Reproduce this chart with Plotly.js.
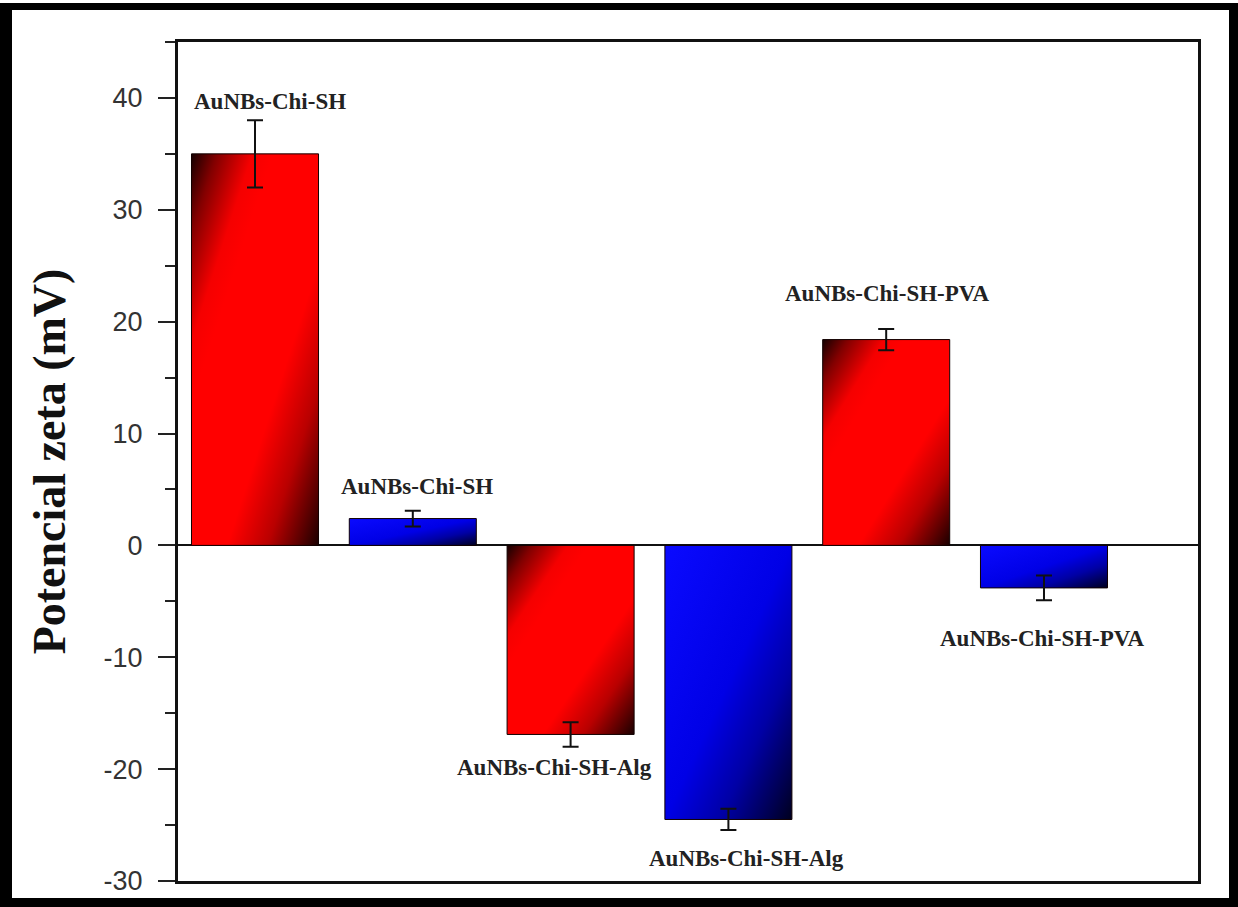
<!DOCTYPE html>
<html>
<head>
<meta charset="utf-8">
<script src="https://cdn.plot.ly/plotly-3.0.1.min.js"></script>
<style>
  html, body { margin: 0; padding: 0; background: #fff; }
  #frame {
    position: absolute; left: 0; top: 3px;
    width: 1238px; height: 904px; box-sizing: border-box;
    border-style: solid; border-color: #000;
    border-width: 7px 9px 9px 12px; background: #fff;
  }
  #chart { width: 1217px; height: 888px; }
</style>
</head>
<body>
<div id="frame"><div id="chart"></div></div>
<script>
// ---- data ----
const sampleNames = ["AuNBs-Chi-SH", "AuNBs-Chi-SH", "AuNBs-Chi-SH-Alg", "AuNBs-Chi-SH-Alg", "AuNBs-Chi-SH-PVA", "AuNBs-Chi-SH-PVA"];
const positions = [1, 2, 3, 4, 5, 6];
const zetaValues = [35.0, 2.4, -16.9, -24.5, 18.4, -3.8];
const zetaErrors = [3.0, 0.7, 1.1, 0.95, 0.95, 1.1];
const barGroups = ["red", "blue", "red", "blue", "red", "blue"];
const yTickVals = [-30, -20, -10, 0, 10, 20, 30, 40];
const yTickText = ["-30", "-20", "-10", "0", "10", "20", "30", "40"];

// ---- label placement (pixel offsets, style only) ----
const labelDX = [15, 4, -16, 18, 1, -2];
const labelDY = [19, 24, -21, -28, 35, -38];

const baseColors = { red: "rgb(255,0,0)", blue: "rgb(0,0,230)" };

const trace = {
  type: "bar",
  x: positions,
  y: zetaValues,
  width: 0.805,
  marker: {
    color: barGroups.map(g => baseColors[g]),
    line: { color: "#100", width: 1 }
  },
  error_y: { type: "data", array: zetaErrors, visible: true, color: "#111", thickness: 2, width: 8 },
  hoverinfo: "skip"
};

const annotations = sampleNames.map((name, i) => ({
  x: positions[i],
  y: zetaValues[i] + Math.sign(zetaValues[i]) * zetaErrors[i],
  xref: "x", yref: "y",
  text: "<b>" + name + "</b>",
  showarrow: false,
  xanchor: "center", yanchor: "middle",
  xshift: labelDX[i], yshift: labelDY[i],
  font: { family: "Liberation Serif, 'Times New Roman', serif", size: 23, color: "#222" }
}));

const layout = {
  width: 1217, height: 888,
  margin: { l: 166, r: 31, t: 32, b: 17 },
  paper_bgcolor: "#fff", plot_bgcolor: "#fff",
  showlegend: false,
  xaxis: {
    range: [0.512, 6.976],
    showticklabels: false, ticks: "",
    showgrid: false, zeroline: false,
    showline: true, mirror: true, linecolor: "#111", linewidth: 3
  },
  yaxis: {
    range: [-30, 45],
    tickvals: yTickVals, ticktext: yTickText,
    ticks: "outside", ticklen: 17, tickwidth: 2, tickcolor: "#222",
    minor: { dtick: 5, tick0: 0, ticks: "outside", ticklen: 10, tickwidth: 2, tickcolor: "#222" },
    ticklabelstandoff: 10,
    tickfont: { family: "Liberation Sans, Arial, sans-serif", size: 27, color: "#333" },
    showgrid: false,
    zeroline: true, zerolinecolor: "#111", zerolinewidth: 2,
    showline: true, mirror: true, linecolor: "#111", linewidth: 3,
    title: {
      text: "<b>Potencial zeta (mV)</b>",
      font: { family: "Liberation Serif, 'Times New Roman', serif", size: 46, color: "#111" },
      standoff: 24
    }
  },
  annotations: annotations
};

function applyGradients(gd) {
  const svg = gd.querySelector(".main-svg");
  const ns = "http://www.w3.org/2000/svg";
  let defs = svg.querySelector("defs");
  if (!defs) { defs = document.createElementNS(ns, "defs"); svg.insertBefore(defs, svg.firstChild); }
  const grads = {
    red: [[0, "rgb(20,0,0)"], [0.1, "rgb(130,0,0)"], [0.24, "rgb(245,0,0)"], [0.32, "rgb(255,0,0)"], [0.64, "rgb(255,0,0)"], [0.8, "rgb(185,0,0)"], [0.92, "rgb(90,0,0)"], [1, "rgb(25,0,0)"]],
    blue: [[0, "rgb(10,10,255)"], [0.5, "rgb(0,0,230)"], [0.72, "rgb(0,0,165)"], [0.9, "rgb(0,0,80)"], [1, "rgb(0,0,30)"]]
  };
  Object.keys(grads).forEach(k => {
    const lg = document.createElementNS(ns, "linearGradient");
    lg.setAttribute("id", "grad-" + k);
    lg.setAttribute("x1", "0"); lg.setAttribute("y1", "0");
    lg.setAttribute("x2", "1"); lg.setAttribute("y2", "1");
    grads[k].forEach(([o, c]) => {
      const s = document.createElementNS(ns, "stop");
      s.setAttribute("offset", o);
      s.setAttribute("stop-color", c);
      lg.appendChild(s);
    });
    defs.appendChild(lg);
  });
  const paths = gd.querySelectorAll(".barlayer .point path");
  paths.forEach((p, i) => {
    const g = barGroups[i];
    if (g) p.style.fill = "url(#grad-" + g + ")";
  });
}

Plotly.newPlot("chart", [trace], layout, { displayModeBar: false, staticPlot: true }).then(applyGradients);
</script>
</body>
</html>
